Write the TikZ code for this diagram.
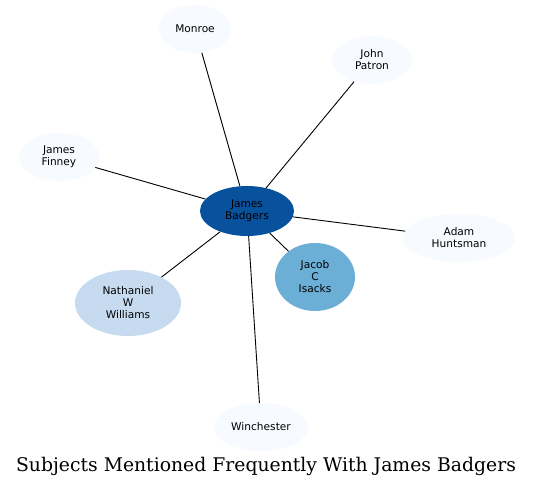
\documentclass[tikz,border=0pt]{standalone}
\usepackage{fontspec}
\newfontfamily\djv{DejaVu Sans}
\newfontfamily\djs{DejaVu Serif}
\usetikzlibrary{shapes.geometric}
\definecolor{cdark}{HTML}{08519C}
\definecolor{cmid}{HTML}{6BAED6}
\definecolor{clight}{HTML}{C6DBEF}
\definecolor{cpale}{HTML}{F7FBFF}
\tikzset{
  subj/.style={ellipse, draw=none, inner sep=0pt, align=center,
    font=\djv\fontsize{10.6}{12}\selectfont, text=black},
  edge/.style={draw=black, line width=0.9pt}
}
\begin{document}
\begin{tikzpicture}[x=1pt,y=-1pt]
\useasboundingbox (0,0) rectangle (533,488);
\fill[white] (0,0) rectangle (533,488);
\node[subj, fill=cdark, minimum width=94, minimum height=50] (jb) at (247,211) {James\\Badgers};
\node[subj, fill=cpale, minimum width=72, minimum height=48] (mo) at (195,29) {Monroe};
\node[subj, fill=cpale, minimum width=80, minimum height=48] (jp) at (372,60) {John\\Patron};
\node[subj, fill=cpale, minimum width=80, minimum height=48] (jf) at (59,157) {James\\Finney};
\node[subj, fill=cpale, minimum width=112, minimum height=48] (ah) at (459,238) {Adam\\Huntsman};
\node[subj, fill=cmid, minimum width=80, minimum height=68] (ji) at (315,277) {Jacob\\C\\Isacks};
\node[subj, fill=clight, minimum width=106, minimum height=66] (nw) at (128,303) {Nathaniel\\W\\Williams};
\node[subj, fill=cpale, minimum width=94, minimum height=48] (wi) at (261,427) {Winchester};
\draw[edge] (jb) -- (mo);
\draw[edge] (jb) -- (jp);
\draw[edge] (jb) -- (jf);
\draw[edge] (jb) -- (ah);
\draw[edge] (jb) -- (ji);
\draw[edge] (jb) -- (nw);
\draw[edge] (jb) -- (wi);
\node[inner sep=0pt, font=\djs\fontsize{18.8}{22}\selectfont] (title) at (266,466) {Subjects Mentioned Frequently With James Badgers};
\end{tikzpicture}
\end{document}
